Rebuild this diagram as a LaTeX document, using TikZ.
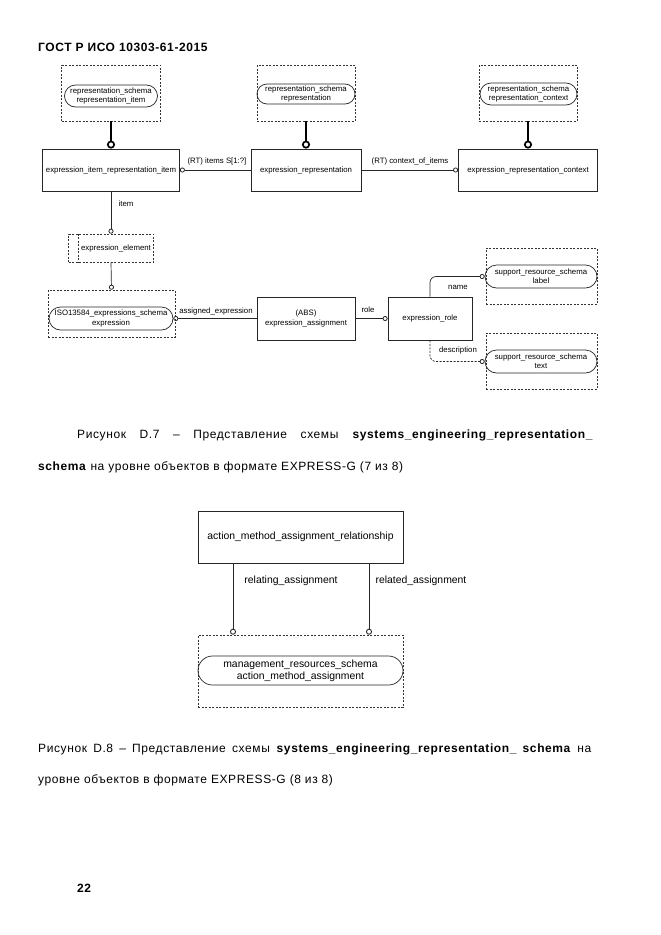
\documentclass[tikz,border=0pt]{standalone}
\usepackage{fontspec}
\setmainfont{Liberation Sans}
\usetikzlibrary{arrows.meta}
\newcommand{\diafont}{\fontsize{7.8}{9.3}\selectfont}
\newcommand{\bigdiafont}{\fontsize{10.4}{12.2}\selectfont}
\newcommand{\capfont}{\fontsize{12}{14}\selectfont\addfontfeatures{LetterSpace=5}}
\begin{document}
\begin{tikzpicture}[x=1pt,y=-1pt,
  ent/.style={draw=black!85, line width=0.8pt, inner sep=0pt, font=\diafont, align=center},
  dbox/.style={draw=black!80, line width=0.6pt, dash pattern=on 2pt off 1.5pt, inner sep=0pt},
  pillbox/.style={draw=black!85, line width=0.7pt, inner sep=0pt, font=\diafont, align=center, rounded corners=#1},
  lbl/.style={font=\diafont, inner sep=0pt},
  blbl/.style={font=\bigdiafont, inner sep=0pt},
  rel/.style={draw=black!85, line width=0.7pt, -{Circle[open,length=5pt,width=5pt,line width=0.8pt]}},
  brel/.style={draw=black!85, line width=0.8pt, -{Circle[open,length=6pt,width=6pt,line width=0.9pt]}},
  sub/.style={draw=black, line width=2.2pt, -{Circle[open,length=8pt,width=8pt,line width=1.7pt]}},
  captxt/.style={anchor=west, inner sep=0pt, font=\capfont},
]
\useasboundingbox[fill=white] (0,0) rectangle (661,935);

% title
\node[captxt, font=\capfont\bfseries] (title) at (38,47) {ГОСТ Р ИСО 10303-61-2015};

% top entities
\node[ent, minimum width=137pt, minimum height=42pt] (b1) at (111,170) {expression\_item\_representation\_item};
\node[ent, minimum width=110pt, minimum height=42pt] (b2) at (306,170) {expression\_representation};
\node[ent, minimum width=139pt, minimum height=42pt] (b3) at (528,170) {expression\_representation\_context};

% top dashed references
\node[dbox, minimum width=99pt, minimum height=56pt] (d1) at (111,93) {};
\node[pillbox=11pt, minimum width=93pt, minimum height=22pt] (p1) at (111,96) {representation\_schema\\representation\_item};
\node[dbox, minimum width=98pt, minimum height=56pt] (d2) at (306,93) {};
\node[pillbox=10pt, minimum width=98pt, minimum height=20pt] (p2) at (306,94) {representation\_schema\\representation};
\node[dbox, minimum width=98pt, minimum height=56pt] (d3) at (528,93) {};
\node[pillbox=11pt, minimum width=97pt, minimum height=22pt] (p3) at (528.5,94) {representation\_schema\\representation\_context};

\draw[sub] (d1.south) -- (b1.north);
\draw[sub] (d2.south) -- (b2.north);
\draw[sub] (d3.south) -- (b3.north);

\draw[rel] (b2.west) -- (b1.east);
\node[lbl] (l1) at (217,161) {(RT) items S[1:?]};
\draw[rel] (b2.east) -- (b3.west);
\node[lbl] (l2) at (410,161) {(RT) context\_of\_items};

% select type
\node[dbox, minimum width=85pt, minimum height=28pt] (el) at (111,248) {};
\draw[dbox] ([xshift=10pt]el.north west) -- ([xshift=10pt]el.south west);
\node[lbl] (elt) at (116,248) {expression\_element};
\draw[rel] (b1.south) -- (el.north);
\node[lbl] (l3) at (126,204) {item};

\node[dbox, minimum width=127pt, minimum height=47pt] (d4) at (111.5,313.5) {};
\node[pillbox=11.5pt, minimum width=124pt, minimum height=23pt] (p4) at (111,318.5) {ISO13584\_expressions\_schema\\expression};
\draw[rel] (el.south) -- (d4.north);

\node[ent, minimum width=98pt, minimum height=43pt] (ea) at (306,318.5) {(ABS)\\expression\_assignment};
\draw[rel] (ea.west) -- (p4.east);
\node[lbl] (l4) at (216,311) {assigned\_expression};

\node[ent, minimum width=84pt, minimum height=43pt] (er) at (430,318.5) {expression\_role};
\draw[rel] (ea.east) -- (er.west);
\node[lbl] (l5) at (368,310) {role};

\node[dbox, minimum width=111pt, minimum height=56pt] (d5) at (541.5,276) {};
\node[pillbox=11.5pt, minimum width=112pt, minimum height=23pt] (p5) at (541,276.5) {support\_resource\_schema\\label};
\node[dbox, minimum width=111pt, minimum height=56pt] (d6) at (541.5,361) {};
\node[pillbox=11.5pt, minimum width=112pt, minimum height=23pt] (p6) at (541,361.5) {support\_resource\_schema\\text};

\draw[rel, rounded corners=6pt] (er.north) |- (p5.west);
\node[lbl] (l6) at (458,287) {name};
\draw[rel, dash pattern=on 2pt off 1.5pt, rounded corners=6pt] (er.south) |- (p6.west);
\node[lbl] (l7) at (458,350) {description};

% captions D.7
\node[captxt] (c7a) at (77,435) {\makebox[516pt][s]{Рисунок D.7 – Представление схемы \textbf{systems\_engineering\_representation\_}}};
\node[captxt] (c7b) at (38,467) {\textbf{schema} на уровне объектов в формате EXPRESS-G (7 из 8)};

% bottom diagram
\node[ent, font=\bigdiafont, minimum width=205pt, minimum height=52pt] (ar) at (300.5,537) {action\_method\_assignment\_relationship};
\node[dbox, minimum width=205pt, minimum height=72pt] (d7) at (300.5,671) {};
\node[pillbox=14.5pt, font=\bigdiafont, minimum width=205pt, minimum height=29pt] (p7) at (300.5,670.5) {management\_resources\_schema\\action\_method\_assignment};
\draw[brel] ([xshift=-67.5pt]ar.south) -- ([xshift=-67.5pt]d7.north);
\draw[brel] ([xshift=68.5pt]ar.south) -- ([xshift=68.5pt]d7.north);
\node[blbl] (l8) at (291,581) {relating\_assignment};
\node[blbl] (l9) at (421,581) {related\_assignment};

% captions D.8
\node[captxt] (c8a) at (38,749) {\makebox[553pt][s]{Рисунок D.8 – Представление схемы \textbf{systems\_engineering\_representation\_ schema} на}};
\node[captxt] (c8b) at (38,780) {уровне объектов в формате EXPRESS-G (8 из 8)};

% page number
\node[captxt, font=\capfont\bfseries] (pg) at (77,888) {22};
\end{tikzpicture}
\end{document}
